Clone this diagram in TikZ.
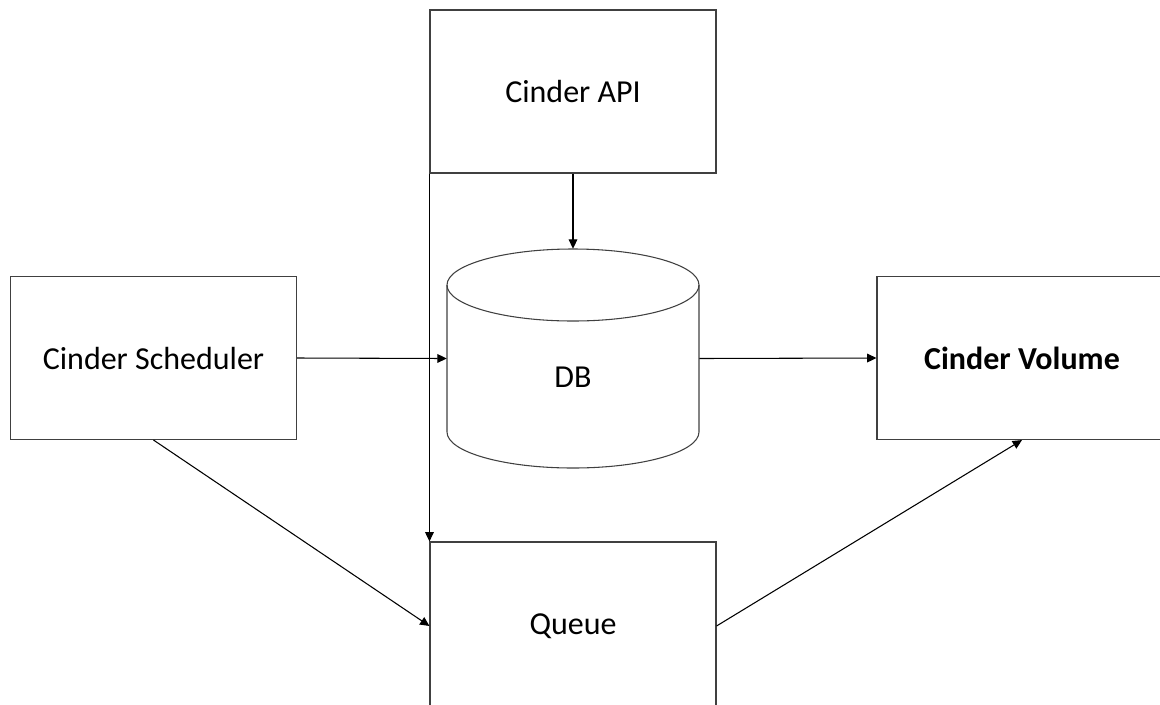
\documentclass[tikz,border=0pt]{standalone}
\usepackage{fontspec}
\setmainfont{Carlito}
\usetikzlibrary{arrows.meta}

\begin{document}
\begin{tikzpicture}[x=0.75pt,y=0.75pt,yscale=-1,xscale=1,
    box/.style={draw={rgb, 255:red, 64; green, 64; blue, 64 }, line width=0.8pt, minimum width=214.5pt, minimum height=122.25pt, inner sep=0pt, font=\fontsize{24}{29}\selectfont},
    dbbox/.style={minimum width=189pt, minimum height=164.25pt, inner sep=0pt},
    conn/.style={draw={rgb, 255:red, 0; green, 0; blue, 0 }, line width=0.8pt, -{Triangle[length=7pt,width=6.5pt]}}]
\useasboundingbox (0,0) rectangle (1160,704);

\node [box] (api) at (573,91.5) {Cinder API};
\node [box] (sched) at (153.5,358) {Cinder Scheduler};
\node [box, minimum width=217.5pt] (vol) at (1022,358) {\textbf{Cinder Volume}};
\node [box, minimum height=126pt] (queue) at (573,626) {Queue};

% DB cylinder
\node [dbbox] (db) at (573,358.5) {};
\draw [draw={rgb, 255:red, 64; green, 64; blue, 64 }, line width=0.8pt] (573,285) ellipse [x radius=94.5pt, y radius=27pt] ;
\draw [draw={rgb, 255:red, 64; green, 64; blue, 64 }, line width=0.8pt] (447,285) -- (447,432) .. controls (447,451.9) and (503.4,468) .. (573,468) .. controls (642.6,468) and (699,451.9) .. (699,432) -- (699,285) ;
\node [font=\fontsize{24}{29}\selectfont] (dbtext) at (573,377) {DB};

\draw [conn] (api.south) -- (db.north) ;
\draw [conn] (api.south west) -- (queue.north west) ;
\draw [conn] (sched.east) -- (db.west) ;
\draw [conn] (db.east) -- (vol.west) ;
\draw [conn] (sched.south) -- (queue.west) ;
\draw [conn] (queue.east) -- (vol.south) ;
\end{tikzpicture}
\end{document}
